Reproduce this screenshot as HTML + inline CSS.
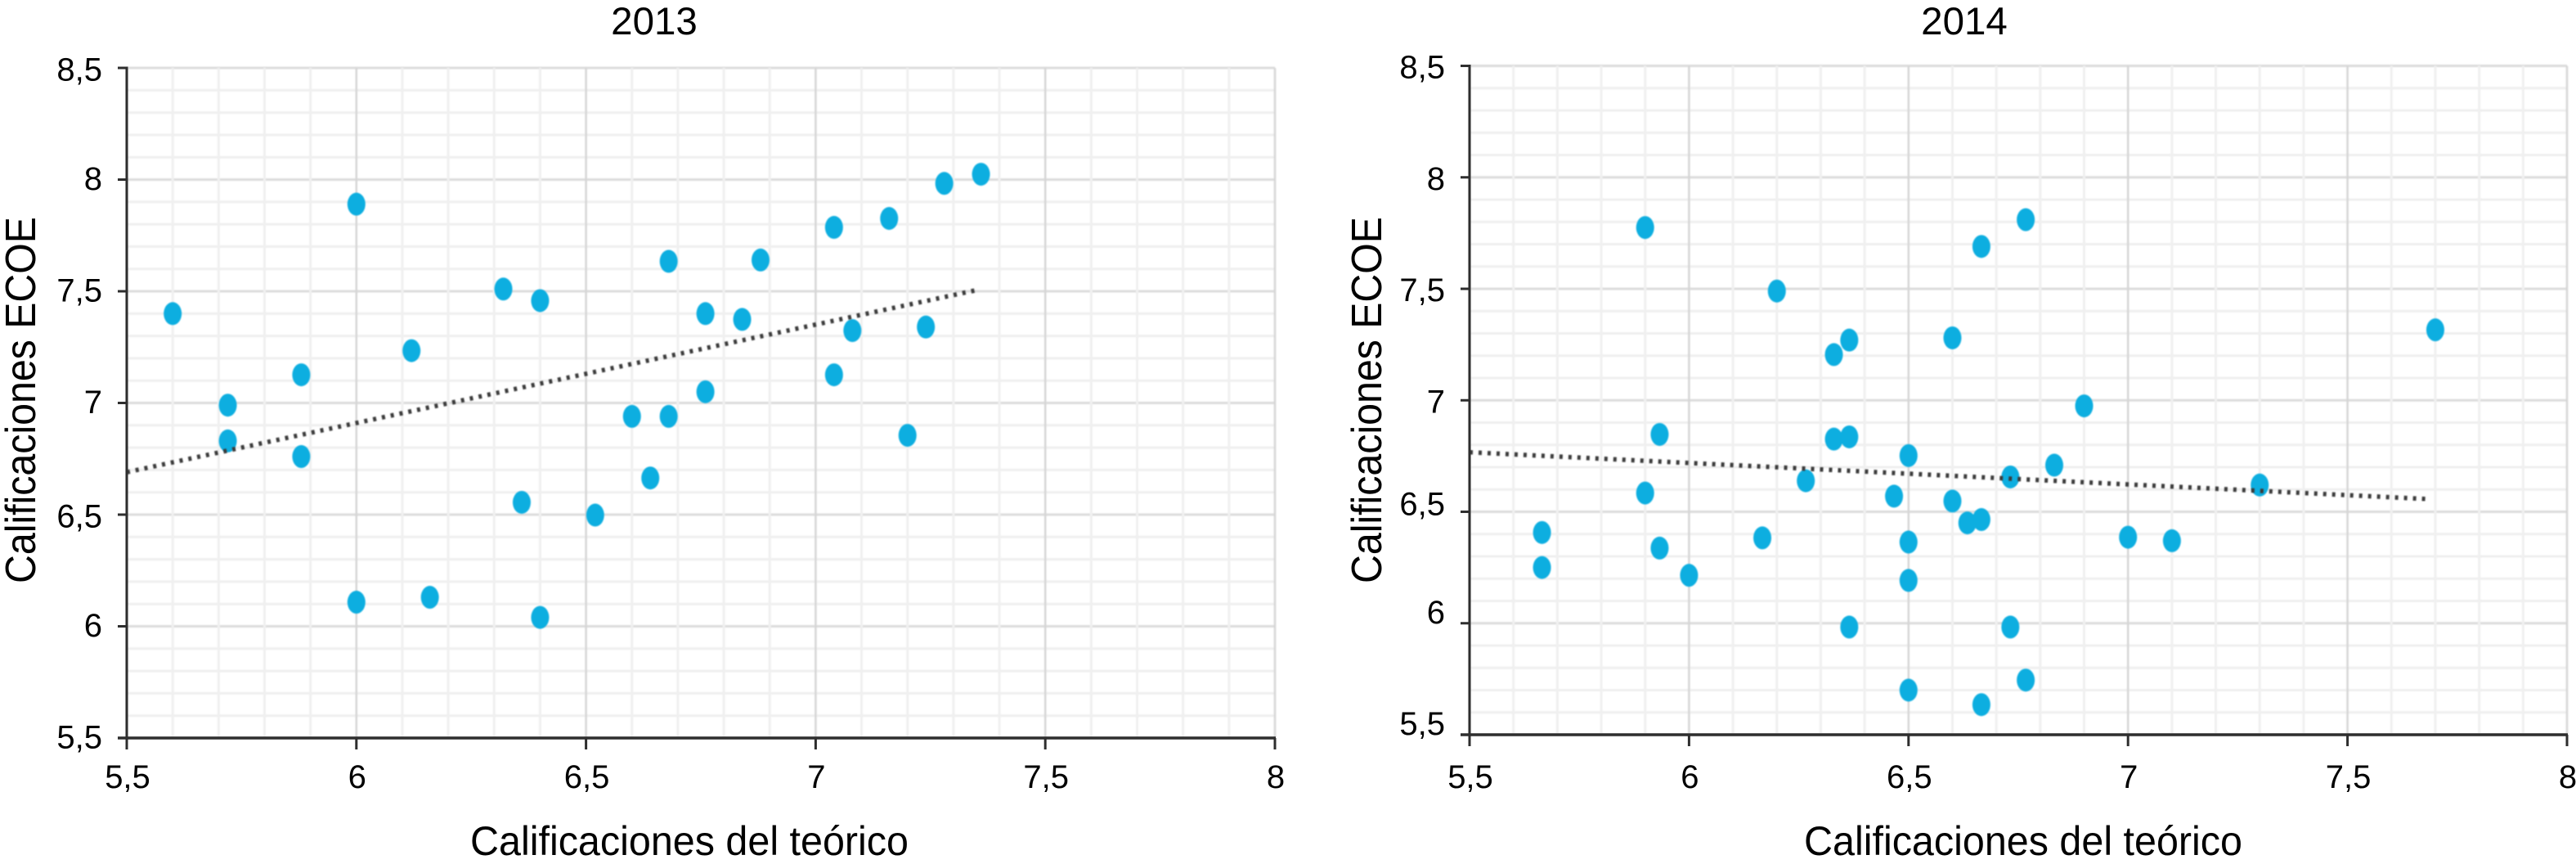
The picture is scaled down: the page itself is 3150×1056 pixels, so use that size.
<!DOCTYPE html>
<html lang="es">
<head>
<meta charset="utf-8">
<title>Calificaciones ECOE frente a calificaciones del teórico, 2013 y 2014</title>
<style>
  html, body { margin: 0; padding: 0; background: #fff; }
  body { width: 3150px; height: 1056px; overflow: hidden; }
  svg { display: block; font-family: "Liberation Sans", Arial, sans-serif; }
  text { fill: #000; }
</style>
</head>
<body>
<svg id="figure" xmlns="http://www.w3.org/2000/svg" width="3150" height="1056" viewBox="0 0 3150 1056">
  <rect x="0" y="0" width="3150" height="1056" fill="#ffffff"></rect>
  <defs>
    <filter id="soft" x="-5%" y="-5%" width="110%" height="110%"><feGaussianBlur stdDeviation="0.7"></feGaussianBlur></filter>
  </defs>
  <g id="panel-2013"></g>
  <g id="panel-2014"></g>
</svg>
<script>
// Shared axis values and labels
const xTickValues = [5.5, 6, 6.5, 7, 7.5, 8];
const xTickLabels = ['5,5', '6', '6,5', '7', '7,5', '8'];
const yTickValues = [5.5, 6, 6.5, 7, 7.5, 8, 8.5];
const yTickLabels = ['5,5', '6', '6,5', '7', '7,5', '8', '8,5'];
const xAxisTitle = 'Calificaciones del teórico';
const yAxisTitle = 'Calificaciones ECOE';

// 2013 series
const theory2013 = [5.6, 5.72, 5.72, 5.88, 5.88, 6.0, 6.12, 6.32, 6.4, 6.6, 6.68, 6.88, 7.04, 7.16, 7.28, 7.36, 6.76, 6.84, 7.08, 7.24, 7.04, 6.76, 6.68, 7.2, 6.36, 6.52, 6.64, 6.0, 6.16, 6.4];
const ecoe2013 = [7.4, 6.99, 6.83, 7.126, 6.76, 7.89, 7.234, 7.51, 7.458, 6.94, 7.634, 7.64, 7.786, 7.826, 7.983, 8.024, 7.4, 7.374, 7.324, 7.34, 7.126, 7.05, 6.94, 6.855, 6.555, 6.498, 6.664, 6.108, 6.13, 6.04];
const trendX2013 = [5.5, 7.35];
const trendY2013 = [6.69, 7.505];

// 2014 series
const theory2014 = [5.9, 6.2, 6.365, 6.33, 6.6, 6.767, 6.666, 7.7, 6.9, 5.933, 6.33, 6.365, 6.5, 5.9, 6.266, 6.467, 6.6, 5.665, 5.665, 5.933, 6.0, 6.167, 6.5, 6.5, 6.365, 6.5, 6.732, 6.832, 6.634, 6.666, 7.0, 7.1, 7.3, 6.732, 6.767, 6.666];
const ecoe2014 = [7.775, 7.49, 7.27, 7.205, 7.28, 7.81, 7.69, 7.316, 6.975, 6.847, 6.826, 6.836, 6.752, 6.584, 6.639, 6.57, 6.548, 6.407, 6.25, 6.337, 6.215, 6.383, 6.364, 6.192, 5.983, 5.7, 6.656, 6.709, 6.45, 6.465, 6.386, 6.37, 6.62, 5.983, 5.745, 5.635];
const trendX2014 = [5.5, 7.683];
const trendY2014 = [6.767, 6.557];

const SVG_NS = 'http://www.w3.org/2000/svg';

function make(parent, tag, props) {
  const el = document.createElementNS(SVG_NS, tag);
  for (const key in props) {
    el.setAttribute(key, props[key]);
  }
  parent.appendChild(el);
  return el;
}

function drawPanel(cfg) {
  const root = document.getElementById(cfg.id);
  const xMin = 5.5, xMax = 8, yMin = 5.5, yMax = 8.5;
  const sx = v => cfg.left + (v - xMin) / (xMax - xMin) * (cfg.right - cfg.left);
  const sy = v => cfg.bottom - (v - yMin) / (yMax - yMin) * (cfg.bottom - cfg.top);

  // Gridlines: one every 0.1, heavier every 0.5
  const grid = make(root, 'g', { filter: 'url(#soft)' });
  
  
  for (let i = 0; i <= 30; i++) {
    const v = yMin + i / 10;
    const major = i % 5 === 0;
    const h = make(grid, 'line', {
      x1: cfg.left, x2: cfg.right, y1: sy(v), y2: sy(v),
      stroke: major ? '#dcdcdc' : '#efefef',
      'stroke-width': 3
    });
    
    
  }
  for (let i = 0; i <= 25; i++) {
    const v = xMin + i / 10;
    const major = i % 5 === 0;
    const g = make(grid, 'line', {
      x1: sx(v), x2: sx(v), y1: cfg.top, y2: cfg.bottom,
      stroke: major ? '#d6d6d6' : '#f0f0f0',
      'stroke-width': major ? 2.5 : 3
    });
    
    
  }

  // Points
  const points = make(root, 'g', { filter: 'url(#soft)' });
  
  
  cfg.xs.forEach((xv, i) => {
    const dot = make(points, 'ellipse', {
      cx: sx(xv), cy: sy(cfg.ys[i]), rx: 11, ry: 14, fill: '#10aee0'
    });
    
    
  });

  // Trend line
  const trend = make(root, 'line', {
    x1: sx(cfg.trendX[0]), y1: sy(cfg.trendY[0]),
    x2: sx(cfg.trendX[1]), y2: sy(cfg.trendY[1]),
    stroke: '#3a3a3a', 'stroke-width': 5.5, 'stroke-dasharray': '4 7', filter: 'url(#soft)'
  });
  
  

  // Axis lines
  const yAxis = make(root, 'line', {
    x1: cfg.left, x2: cfg.left, y1: cfg.top - 1.5, y2: cfg.bottom + 14,
    stroke: '#2e2e2e', 'stroke-width': 3
  });
  
  
  const xAxis = make(root, 'line', {
    x1: cfg.left - 11, x2: cfg.right + 1, y1: cfg.bottom, y2: cfg.bottom,
    stroke: '#2e2e2e', 'stroke-width': 3.5
  });
  
  

  // X ticks and labels
  xTickValues.forEach((v, i) => {
    const t = make(root, 'line', {
      x1: sx(v), x2: sx(v), y1: cfg.bottom, y2: cfg.bottom + 14,
      stroke: '#2e2e2e', 'stroke-width': 3
    });
    
    
    const label = make(root, 'text', {
      x: sx(v) + 1, y: cfg.xLabelBaseline, 'text-anchor': 'middle', 'font-size': 40
    });
    label.textContent = xTickLabels[i];
    
    
  });

  // Y ticks and labels
  yTickValues.forEach((v, i) => {
    const t = make(root, 'line', {
      x1: cfg.left - 11, x2: cfg.left, y1: sy(v), y2: sy(v),
      stroke: '#2e2e2e', 'stroke-width': 3
    });
    
    
    const label = make(root, 'text', {
      x: cfg.yLabelRight, y: sy(v) + cfg.yLabelDy(v), 'text-anchor': 'end', 'font-size': 40
    });
    label.textContent = yTickLabels[i];
    
    
  });

  // Titles
  const title = make(root, 'text', {
    x: cfg.titleX, y: 42, 'text-anchor': 'middle', 'font-size': 47.5
  });
  title.textContent = cfg.title;
  
  

  const xTitle = make(root, 'text', {
    x: cfg.xTitleX, y: 1045, 'text-anchor': 'middle', 'font-size': 50,
    textLength: 536, lengthAdjust: 'spacingAndGlyphs'
  });
  xTitle.textContent = xAxisTitle;
  
  

  const yTitle = make(root, 'text', {
    transform: 'translate(' + cfg.yTitleX + ' 489) rotate(-90)',
    x: 0, y: 0, 'text-anchor': 'middle', 'font-size': 52,
    textLength: 448, lengthAdjust: 'spacingAndGlyphs'
  });
  yTitle.textContent = yAxisTitle;
  
  
}

drawPanel({
  id: 'panel-2013', title: '2013',
  left: 155, right: 1559, top: 83, bottom: 902,
  xs: theory2013, ys: ecoe2013, trendX: trendX2013, trendY: trendY2013,
  titleX: 800, xTitleX: 843, yTitleX: 43,
  xLabelBaseline: 963, yLabelRight: 125,
  yLabelDy: v => (v === 8.5 || v === 6.5) ? 15.5 : 12.5
});

drawPanel({
  id: 'panel-2014', title: '2014',
  left: 1797, right: 3139, top: 80.5, bottom: 898,
  xs: theory2014, ys: ecoe2014, trendX: trendX2014, trendY: trendY2014,
  titleX: 2402, xTitleX: 2474, yTitleX: 1689,
  xLabelBaseline: 963, yLabelRight: 1767,
  yLabelDy: v => v >= 7 ? 15 : (v >= 6.5 ? 4 : 0)
});
</script>
</body>
</html>
